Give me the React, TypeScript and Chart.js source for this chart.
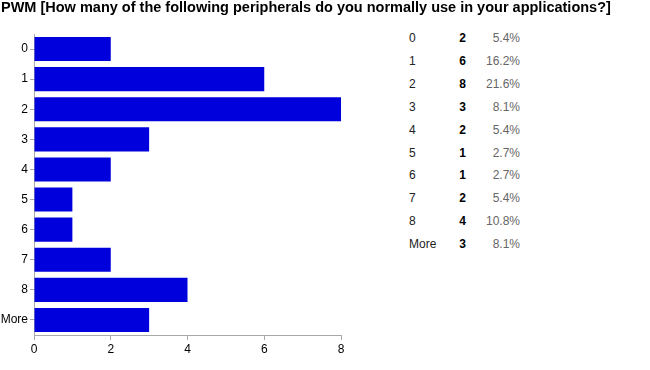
import React, { useEffect, useRef } from "react";
import { Chart, registerables } from "chart.js";

Chart.register(...registerables);

const TITLE = "PWM [How many of the following peripherals do you normally use in your applications?]";
const categories = ["0", "1", "2", "3", "4", "5", "6", "7", "8", "More"];
const counts = [2, 6, 8, 3, 2, 1, 1, 2, 4, 3];
const percents = ["5.4%", "16.2%", "21.6%", "8.1%", "5.4%", "2.7%", "2.7%", "5.4%", "10.8%", "8.1%"];
const xTicks = [0, 2, 4, 6, 8];

const FONT = "'Liberation Sans', Arial, sans-serif";

export default function App() {
  const ref = useRef<HTMLCanvasElement | null>(null);

  useEffect(() => {
    if (!ref.current) return;
    const chart = new Chart(ref.current, {
      type: "bar",
      data: {
        labels: categories,
        datasets: [
          {
            data: counts,
            backgroundColor: "#0000dd",
            borderWidth: 0,
            categoryPercentage: 0.8,
            barPercentage: 1,
          },
        ],
      },
      options: {
        indexAxis: "y",
        animation: false,
        responsive: false,
        layout: { padding: { left: 0, right: 9, top: 34, bottom: 15 } },
        plugins: {
          legend: { display: false },
          tooltip: { enabled: false },
          title: { display: false },
        },
        scales: {
          x: {
            min: 0,
            max: 8,
            afterBuildTicks: (s: any) => {
              s.ticks = xTicks.map((v) => ({ value: v }));
            },
            afterFit: (s: any) => {
              s.height = 20;
            },
            grid: { drawOnChartArea: false, drawTicks: true, tickLength: 5, color: "#aaa" },
            border: { color: "#aaa" },
            ticks: { color: "#000", font: { family: FONT, size: 12 }, padding: 2 },
          },
          y: {
            afterFit: (s: any) => {
              s.width = 34;
            },
            grid: { drawOnChartArea: false, drawTicks: true, tickLength: 4, color: "#aaa", offset: false },
            border: { color: "#aaa" },
            ticks: { color: "#000", font: { family: FONT, size: 12 }, padding: 2 },
          },
        },
      },
    });
    return () => chart.destroy();
  }, []);

  return (
    <div style={{ position: "absolute", left: 0, top: 0, width: 650, height: 370, background: "#fff" }}>
      <canvas ref={ref} width={350} height={370} style={{ position: "absolute", left: 0, top: 0 }} />
      <div
        style={{
          position: "absolute",
          left: 1,
          top: -1,
          fontFamily: FONT,
          fontSize: 14.5,
          fontWeight: "bold",
          color: "#000",
          whiteSpace: "nowrap",
          lineHeight: "16px",
        }}
      >
        {TITLE}
      </div>
      {categories.map((c, i) => (
        <div
          key={c}
          style={{
            position: "absolute",
            top: 28 + i * 22.9,
            left: 0,
            height: 20,
            lineHeight: "20px",
            fontFamily: FONT,
            fontSize: 12,
            whiteSpace: "nowrap",
          }}
        >
          <span style={{ position: "absolute", left: 409, color: "#222" }}>{c}</span>
          <span style={{ position: "absolute", left: 436, width: 30, textAlign: "right", color: "#000", fontWeight: "bold" }}>
            {counts[i]}
          </span>
          <span style={{ position: "absolute", left: 470, width: 50, textAlign: "right", color: "#666" }}>{percents[i]}</span>
        </div>
      ))}
    </div>
  );
}
